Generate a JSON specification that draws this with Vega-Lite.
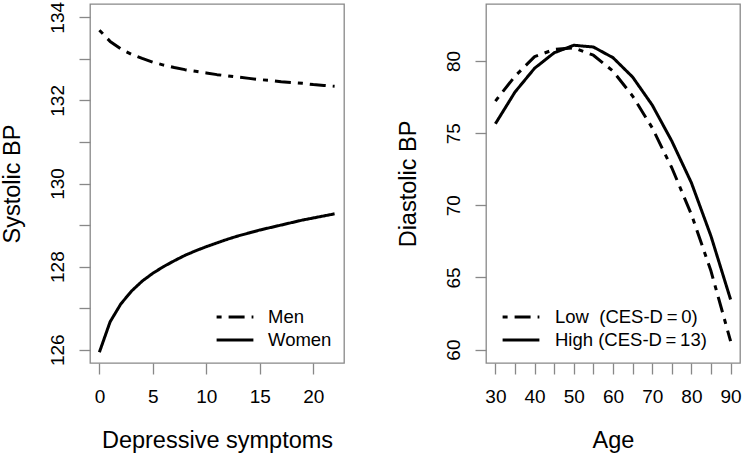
{
  "$schema": "https://vega.github.io/schema/vega-lite/v6.json",
  "padding": {"left": -1, "top": 0, "right": 0, "bottom": 0},
  "background": "white",
  "spacing": 50,
  "config": {
    "font": "Liberation Sans",
    "view": {"stroke": "#888888", "strokeWidth": 1.3},
    "axis": {
      "domain": false, "grid": false,
      "tickColor": "#888888", "tickSize": 11, "tickWidth": 1.3,
      "labelFont": "Liberation Sans", "labelFontSize": 19, "labelColor": "black",
      "titleFont": "Liberation Sans", "titleFontSize": 23.5, "titleFontWeight": "normal", "titleColor": "black"
    },
    "legend": {
      "orient": "none", "title": null, "padding": 0,
      "symbolType": "M-1.6,0H1.6", "symbolSize": 529, "symbolStrokeWidth": 3, "symbolStrokeColor": "black",
      "labelFont": "Liberation Sans", "labelFontSize": 18.5, "labelColor": "black",
      "rowPadding": 0
    }
  },
  "datasets": {
    "sbp": [
      {"symptoms": 0, "sbp": 133.69, "sex": "Men"},
      {"symptoms": 1, "sbp": 133.42, "sex": "Men"},
      {"symptoms": 2, "sbp": 133.24, "sex": "Men"},
      {"symptoms": 3, "sbp": 133.11, "sex": "Men"},
      {"symptoms": 4, "sbp": 133.01, "sex": "Men"},
      {"symptoms": 5, "sbp": 132.92, "sex": "Men"},
      {"symptoms": 6, "sbp": 132.85, "sex": "Men"},
      {"symptoms": 7, "sbp": 132.79, "sex": "Men"},
      {"symptoms": 8, "sbp": 132.74, "sex": "Men"},
      {"symptoms": 9, "sbp": 132.70, "sex": "Men"},
      {"symptoms": 10, "sbp": 132.66, "sex": "Men"},
      {"symptoms": 11, "sbp": 132.62, "sex": "Men"},
      {"symptoms": 12, "sbp": 132.59, "sex": "Men"},
      {"symptoms": 13, "sbp": 132.56, "sex": "Men"},
      {"symptoms": 14, "sbp": 132.53, "sex": "Men"},
      {"symptoms": 15, "sbp": 132.50, "sex": "Men"},
      {"symptoms": 16, "sbp": 132.48, "sex": "Men"},
      {"symptoms": 17, "sbp": 132.45, "sex": "Men"},
      {"symptoms": 18, "sbp": 132.43, "sex": "Men"},
      {"symptoms": 19, "sbp": 132.41, "sex": "Men"},
      {"symptoms": 20, "sbp": 132.38, "sex": "Men"},
      {"symptoms": 21, "sbp": 132.36, "sex": "Men"},
      {"symptoms": 22, "sbp": 132.34, "sex": "Men"},
      {"symptoms": 0, "sbp": 125.94, "sex": "Women"},
      {"symptoms": 1, "sbp": 126.67, "sex": "Women"},
      {"symptoms": 2, "sbp": 127.10, "sex": "Women"},
      {"symptoms": 3, "sbp": 127.41, "sex": "Women"},
      {"symptoms": 4, "sbp": 127.65, "sex": "Women"},
      {"symptoms": 5, "sbp": 127.84, "sex": "Women"},
      {"symptoms": 6, "sbp": 128.00, "sex": "Women"},
      {"symptoms": 7, "sbp": 128.14, "sex": "Women"},
      {"symptoms": 8, "sbp": 128.27, "sex": "Women"},
      {"symptoms": 9, "sbp": 128.38, "sex": "Women"},
      {"symptoms": 10, "sbp": 128.48, "sex": "Women"},
      {"symptoms": 11, "sbp": 128.57, "sex": "Women"},
      {"symptoms": 12, "sbp": 128.66, "sex": "Women"},
      {"symptoms": 13, "sbp": 128.74, "sex": "Women"},
      {"symptoms": 14, "sbp": 128.81, "sex": "Women"},
      {"symptoms": 15, "sbp": 128.88, "sex": "Women"},
      {"symptoms": 16, "sbp": 128.94, "sex": "Women"},
      {"symptoms": 17, "sbp": 129.00, "sex": "Women"},
      {"symptoms": 18, "sbp": 129.06, "sex": "Women"},
      {"symptoms": 19, "sbp": 129.12, "sex": "Women"},
      {"symptoms": 20, "sbp": 129.17, "sex": "Women"},
      {"symptoms": 21, "sbp": 129.22, "sex": "Women"},
      {"symptoms": 22, "sbp": 129.27, "sex": "Women"}
    ],
    "dbp": [
      {"age": 30, "dbp": 77.22, "group": "Low\u00a0\u00a0(CES-D\u2009=\u20090)"},
      {"age": 35, "dbp": 78.95, "group": "Low\u00a0\u00a0(CES-D\u2009=\u20090)"},
      {"age": 40, "dbp": 80.30, "group": "Low\u00a0\u00a0(CES-D\u2009=\u20090)"},
      {"age": 45, "dbp": 80.80, "group": "Low\u00a0\u00a0(CES-D\u2009=\u20090)"},
      {"age": 50, "dbp": 80.92, "group": "Low\u00a0\u00a0(CES-D\u2009=\u20090)"},
      {"age": 55, "dbp": 80.40, "group": "Low\u00a0\u00a0(CES-D\u2009=\u20090)"},
      {"age": 60, "dbp": 79.30, "group": "Low\u00a0\u00a0(CES-D\u2009=\u20090)"},
      {"age": 65, "dbp": 77.57, "group": "Low\u00a0\u00a0(CES-D\u2009=\u20090)"},
      {"age": 70, "dbp": 75.37, "group": "Low\u00a0\u00a0(CES-D\u2009=\u20090)"},
      {"age": 75, "dbp": 72.60, "group": "Low\u00a0\u00a0(CES-D\u2009=\u20090)"},
      {"age": 80, "dbp": 69.37, "group": "Low\u00a0\u00a0(CES-D\u2009=\u20090)"},
      {"age": 85, "dbp": 65.44, "group": "Low\u00a0\u00a0(CES-D\u2009=\u20090)"},
      {"age": 90, "dbp": 60.58, "group": "Low\u00a0\u00a0(CES-D\u2009=\u20090)"},
      {"age": 30, "dbp": 75.65, "group": "High (CES-D\u2009=\u200913)"},
      {"age": 35, "dbp": 77.85, "group": "High (CES-D\u2009=\u200913)"},
      {"age": 40, "dbp": 79.50, "group": "High (CES-D\u2009=\u200913)"},
      {"age": 45, "dbp": 80.57, "group": "High (CES-D\u2009=\u200913)"},
      {"age": 50, "dbp": 81.09, "group": "High (CES-D\u2009=\u200913)"},
      {"age": 55, "dbp": 80.97, "group": "High (CES-D\u2009=\u200913)"},
      {"age": 60, "dbp": 80.23, "group": "High (CES-D\u2009=\u200913)"},
      {"age": 65, "dbp": 78.89, "group": "High (CES-D\u2009=\u200913)"},
      {"age": 70, "dbp": 76.95, "group": "High (CES-D\u2009=\u200913)"},
      {"age": 75, "dbp": 74.45, "group": "High (CES-D\u2009=\u200913)"},
      {"age": 80, "dbp": 71.56, "group": "High (CES-D\u2009=\u200913)"},
      {"age": 85, "dbp": 67.86, "group": "High (CES-D\u2009=\u200913)"},
      {"age": 90, "dbp": 63.47, "group": "High (CES-D\u2009=\u200913)"}
    ]
  },
  "resolve": {"scale": {"strokeDash": "independent"}, "legend": {"strokeDash": "independent"}},
  "hconcat": [
    {
      "width": 254, "height": 359,
      "data": {"name": "sbp"},
      "mark": {"type": "line", "strokeWidth": 3, "color": "black", "strokeCap": "butt", "strokeJoin": "round"},
      "encoding": {
        "x": {"field": "symptoms", "type": "quantitative",
              "scale": {"domain": [-0.88, 22.88], "nice": false, "zero": false},
              "axis": {"values": [0, 5, 10, 15, 20], "title": "Depressive symptoms", "labelPadding": 13, "titlePadding": 22}},
        "y": {"field": "sbp", "type": "quantitative",
              "scale": {"domain": [125.68, 134.32], "nice": false, "zero": false},
              "axis": {"values": [126, 127, 128, 129, 130, 131, 132, 133, 134], "labelExpr": "datum.value % 2 == 0 ? datum.label : ''",
                       "labelAngle": -90, "labelPadding": 12, "title": "Systolic BP", "titlePadding": 24}},
        "strokeDash": {"field": "sex", "type": "nominal",
                       "scale": {"domain": ["Men", "Women"], "range": [[5, 7, 16, 7], [1, 0]]},
                       "legend": {"legendX": 132, "legendY": 300, "labelOffset": 20}}
      }
    },
    {
      "width": 254, "height": 359,
      "data": {"name": "dbp"},
      "mark": {"type": "line", "strokeWidth": 3, "color": "black", "strokeCap": "butt", "strokeJoin": "round"},
      "encoding": {
        "x": {"field": "age", "type": "quantitative",
              "scale": {"domain": [27.6, 92.4], "nice": false, "zero": false},
              "axis": {"values": [30, 35, 40, 45, 50, 55, 60, 65, 70, 75, 80, 85, 90], "labelExpr": "datum.value % 10 == 0 ? datum.label : ''",
                       "title": "Age", "labelPadding": 13, "titlePadding": 22}},
        "y": {"field": "dbp", "type": "quantitative",
              "scale": {"domain": [59.07, 83.95], "nice": false, "zero": false},
              "axis": {"values": [60, 65, 70, 75, 80], "labelAngle": -90, "labelPadding": 12, "title": "Diastolic BP", "titlePadding": 24}},
        "strokeDash": {"field": "group", "type": "nominal",
                       "scale": {"domain": ["Low\u00a0\u00a0(CES-D\u2009=\u20090)", "High (CES-D\u2009=\u200913)"], "range": [[5, 7, 16, 7], [1, 0]]},
                       "legend": {"legendX": 22, "legendY": 300, "labelOffset": 21}}
      }
    }
  ]
}
